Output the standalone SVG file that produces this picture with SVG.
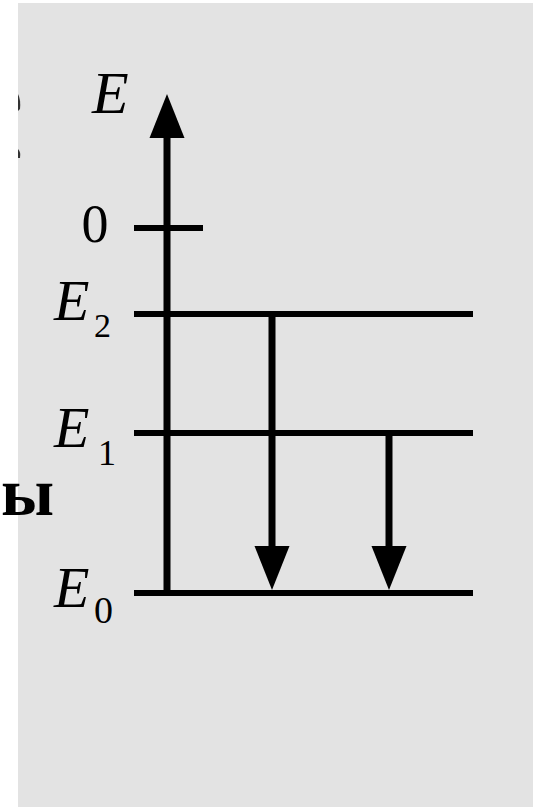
<svg xmlns="http://www.w3.org/2000/svg" width="533" height="807" viewBox="0 0 533 807">
  <style>
    .lvl { stroke: #000; stroke-width: 6; fill: none; }
    .arr { stroke: #000; stroke-width: 7; fill: none; }
  </style>
  <defs>
    <marker id="head" markerUnits="userSpaceOnUse" markerWidth="46" markerHeight="38" refX="1" refY="17.5" orient="auto" overflow="visible">
      <path d="M0,0 L44,17.5 L0,35 Z" fill="#000"/>
    </marker>
  </defs>
  <rect x="0" y="0" width="533" height="807" fill="#ffffff"/>
  <rect x="18" y="3" width="515" height="804" fill="#e3e3e3"/>
  <g id="edge-marks" fill="#333">
    <path d="M18,94 Q21,100 20,109 L18,111 Z"/>
    <path d="M18,149 Q21,152 20,158 L18,158 Z"/>
  </g>
  <g id="cut-word">
    <text x="1" y="515" font-family="Liberation Serif, serif" font-weight="bold" font-size="68" fill="#000">ы</text>
  </g>
  <g id="connectors">
    <line id="axis" class="arr" x1="167" y1="593" x2="167" y2="137" marker-end="url(#head)"/>
    <line id="trans-2-0" class="arr" x1="272" y1="314" x2="272" y2="547" marker-end="url(#head)"/>
    <line id="trans-1-0" class="arr" x1="389" y1="433" x2="389" y2="547" marker-end="url(#head)"/>
  </g>
  <g id="axis-label">
    <text x="92" y="113" font-family="Liberation Serif, serif" font-style="italic" font-size="60" fill="#000">E</text>
  </g>
  <g id="zero-level">
    <line class="lvl" x1="134" y1="228" x2="203" y2="228" stroke-width="5"/>
    <text x="95" y="242" font-family="Liberation Serif, serif" font-size="54" text-anchor="middle" fill="#000">0</text>
  </g>
  <g id="level-E2">
    <line class="lvl" x1="134" y1="314" x2="473" y2="314"/>
    <text x="54" y="320" font-family="Liberation Serif, serif" font-style="italic" font-size="58" fill="#000">E</text>
    <text x="94" y="337" font-family="Liberation Serif, serif" font-size="34" fill="#000">2</text>
  </g>
  <g id="level-E1">
    <line class="lvl" x1="134" y1="433" x2="473" y2="433"/>
    <text x="54" y="447" font-family="Liberation Serif, serif" font-style="italic" font-size="58" fill="#000">E</text>
    <text x="98" y="465" font-family="Liberation Serif, serif" font-size="36" fill="#000">1</text>
  </g>
  <g id="level-E0">
    <line class="lvl" x1="134" y1="593" x2="473" y2="593"/>
    <text x="54" y="607" font-family="Liberation Serif, serif" font-style="italic" font-size="58" fill="#000">E</text>
    <text x="94" y="623" font-family="Liberation Serif, serif" font-size="38" fill="#000">0</text>
  </g>
</svg>
